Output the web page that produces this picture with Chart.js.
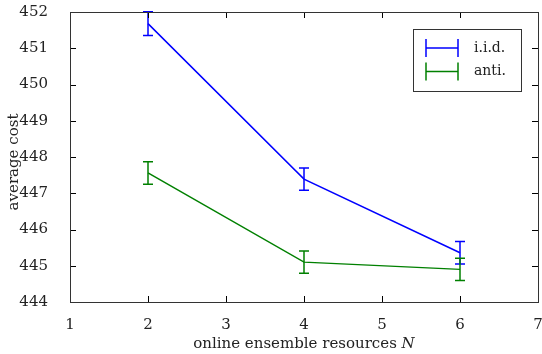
<!DOCTYPE html>
<html>
<head>
<meta charset="utf-8">
<script src="https://cdn.jsdelivr.net/npm/chart.js@4.4.1/dist/chart.umd.min.js"></script>
<style>
  html, body { margin: 0; padding: 0; background: #fff; }
  #wrap { width: 542px; height: 354px; }
</style>
</head>
<body>
<div id="wrap"><canvas id="costChart" width="542" height="354"></canvas></div>
<script>
// Data
const resources = [2, 4, 6];
const iidCost = [451.68, 447.39, 445.36];
const iidErr = [0.33, 0.31, 0.31];
const antiCost = [447.56, 445.10, 444.90];
const antiErr = [0.31, 0.31, 0.31];

const xTicks = [1, 2, 3, 4, 5, 6, 7];
const yTicks = [444, 445, 446, 447, 448, 449, 450, 451, 452];

const seriesNames = ['i.i.d.', 'anti.'];
const seriesColors = ['#0000ff', '#008000'];
const FONT = '"DejaVu Serif", "Liberation Serif", serif';

const toPoints = (ys) => resources.map((x, i) => ({ x: x, y: ys[i] }));

// error bars, frame with inward ticks, legend and axis titles
const paperPlugin = {
    id: 'paper',
    afterDatasetsDraw(chart) {
        const ctx = chart.ctx;
        const xs = chart.scales.x, ys = chart.scales.y;
        const errs = [iidErr, antiErr];
        ctx.save();
        chart.data.datasets.forEach((ds, d) => {
            ctx.strokeStyle = seriesColors[d];
            ctx.lineWidth = 1.5;
            ds.data.forEach((p, i) => {
                const px = xs.getPixelForValue(p.x);
                const top = ys.getPixelForValue(p.y + errs[d][i]);
                const bot = ys.getPixelForValue(p.y - errs[d][i]);
                ctx.beginPath();
                ctx.moveTo(px, top); ctx.lineTo(px, bot);
                ctx.moveTo(px - 5, top); ctx.lineTo(px + 5, top);
                ctx.moveTo(px - 5, bot); ctx.lineTo(px + 5, bot);
                ctx.stroke();
            });
        });
        ctx.restore();
    },
    afterDraw(chart) {
        const ctx = chart.ctx;
        const a = chart.chartArea;
        const xs = chart.scales.x, ys = chart.scales.y;
        ctx.save();
        ctx.strokeStyle = '#000';
        ctx.lineWidth = 1;
        ctx.beginPath();
        xTicks.forEach(v => {
            const px = Math.round(xs.getPixelForValue(v)) + 0.5;
            ctx.moveTo(px, a.bottom); ctx.lineTo(px, a.bottom - 6);
            ctx.moveTo(px, a.top); ctx.lineTo(px, a.top + 6);
        });
        yTicks.forEach(v => {
            const py = Math.round(ys.getPixelForValue(v)) + 0.5;
            ctx.moveTo(a.left, py); ctx.lineTo(a.left + 6, py);
            ctx.moveTo(a.right, py); ctx.lineTo(a.right - 6, py);
        });
        ctx.stroke();
        ctx.strokeStyle = '#333';
        ctx.strokeRect(Math.round(a.left) + 0.5, Math.round(a.top) + 0.5,
            Math.round(a.right - a.left), Math.round(a.bottom - a.top));

        // legend box
        const lx = 413.5, ly = 29.5, lw = 108, lh = 62;
        ctx.fillStyle = '#fff';
        ctx.fillRect(lx, ly, lw, lh);
        ctx.strokeRect(lx, ly, lw, lh);
        ctx.font = '14px ' + FONT;
        ctx.textBaseline = 'middle';
        seriesNames.forEach((name, i) => {
            const cy = 48 + i * 23.5;
            ctx.strokeStyle = seriesColors[i];
            ctx.lineWidth = 1.5;
            ctx.beginPath();
            ctx.moveTo(426, cy); ctx.lineTo(458, cy);
            ctx.moveTo(426, cy - 9); ctx.lineTo(426, cy + 9);
            ctx.moveTo(458, cy - 9); ctx.lineTo(458, cy + 9);
            ctx.stroke();
            ctx.fillStyle = '#222';
            ctx.textAlign = 'left';
            ctx.fillText(name, 474, cy);
        });

        // y axis title
        ctx.save();
        ctx.translate(14, 162);
        ctx.rotate(-Math.PI / 2);
        ctx.font = '15px ' + FONT;
        ctx.fillStyle = '#222';
        ctx.textAlign = 'center';
        ctx.textBaseline = 'middle';
        ctx.fillText('average cost', 0, 0);
        ctx.restore();

        // x axis title with italic N
        const t1 = 'online ensemble resources ';
        const t2 = 'N';
        ctx.font = '15px ' + FONT;
        const w1 = ctx.measureText(t1).width;
        ctx.font = 'italic 15px ' + FONT;
        const w2 = ctx.measureText(t2).width;
        const x0 = (a.left + a.right) / 2 - (w1 + w2) / 2;
        ctx.fillStyle = '#222';
        ctx.textAlign = 'left';
        ctx.textBaseline = 'alphabetic';
        ctx.font = '15px ' + FONT;
        ctx.fillText(t1, x0, 348);
        ctx.font = 'italic 15px ' + FONT;
        ctx.fillText(t2, x0 + w1, 348);
        ctx.restore();
    }
};

new Chart(document.getElementById('costChart'), {
    type: 'line',
    data: {
        datasets: [
            {
                label: seriesNames[0],
                data: toPoints(iidCost),
                borderColor: seriesColors[0],
                borderWidth: 1.5,
                pointRadius: 0,
                fill: false
            },
            {
                label: seriesNames[1],
                data: toPoints(antiCost),
                borderColor: seriesColors[1],
                borderWidth: 1.5,
                pointRadius: 0,
                fill: false
            }
        ]
    },
    options: {
        responsive: false,
        animation: false,
        devicePixelRatio: 1,
        layout: { padding: { top: 12, right: 4, left: 0, bottom: 0 } },
        plugins: {
            legend: { display: false },
            tooltip: { enabled: false }
        },
        scales: {
            x: {
                type: 'linear',
                min: 1,
                max: 7,
                afterBuildTicks: (s) => { s.ticks = xTicks.map(v => ({ value: v })); },
                afterFit: (s) => { s.height = 52; s.paddingLeft = 0; s.paddingRight = 0; },
                grid: { display: false },
                border: { display: false },
                ticks: { color: '#222', padding: 6, maxRotation: 0, font: { family: FONT, size: 15 } }
            },
            y: {
                type: 'linear',
                min: 444,
                max: 452,
                afterBuildTicks: (s) => { s.ticks = yTicks.map(v => ({ value: v })); },
                afterFit: (s) => { s.width = 70; s.paddingTop = 0; s.paddingBottom = 0; },
                grid: { display: false },
                border: { display: false },
                title: { display: false },
                ticks: { color: '#222', padding: 14, font: { family: FONT, size: 15 } }
            }
        }
    },
    plugins: [paperPlugin]
});
</script>
</body>
</html>
